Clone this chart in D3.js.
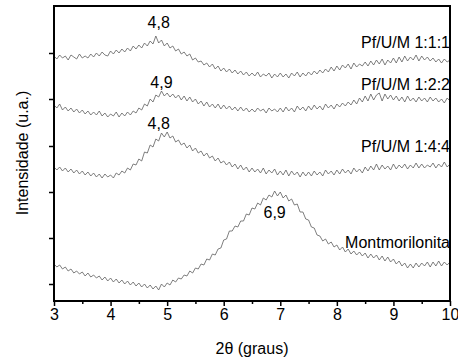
<!DOCTYPE html>
<html><head><meta charset="utf-8">
<script src="https://cdn.jsdelivr.net/npm/d3@7"></script>
<style>body{margin:0;background:#fff}svg{display:block}text{font-family:"Liberation Sans",Arial,sans-serif;fill:#000}</style>
</head><body><div id="chart"></div>
<script>
// 2θ sampling grid: 3.00 to 10.00 in steps of 0.05 (141 points)
const twoThetaStart = 3, twoThetaStep = 0.05;
const xTicks = [3,4,5,6,7,8,9,10];
const xMinorTicks = [3.5,4.5,5.5,6.5,7.5,8.5,9.5];
const yTicks = [17,63,109,155,202,248];
const seriesNames = ["Pf/U/M 1:1:1","Pf/U/M 1:2:2","Pf/U/M 1:4:4","Montmorilonita"];
const peakLabels = ["4,8","4,9","4,8","6,9"];
const peakX = [4.85,4.9,4.85,6.9];
const peakY = [273,213,172,83];
const nameY = [253,211,149,53];

const s111 = [245,242,246,243,245,241,246,244,242,247,243,245,243,247,244,248,245,249,246,245,
250,247,251,248,252,249,253,250,255,252,256,253,258,255,260,257,265,258,261,255,
258,253,255,250,252,247,249,245,247,241,243,239,240,236,238,234,237,232,235,230,
233,229,232,228,231,227,230,226,229,225,228,225,229,224,227,225,228,223,227,224,
228,224,227,223,228,225,229,224,228,225,229,226,230,227,231,228,232,229,234,230,
235,231,236,233,237,232,238,234,237,235,239,235,240,236,241,237,242,236,241,238,
243,238,244,239,245,240,244,241,246,240,245,241,244,240,243,239,242,238,242,239,241];
const s122 = [196,193,197,191,194,190,193,189,192,188,191,187,190,186,189,186,190,185,188,184,
187,185,189,184,188,185,189,186,190,188,193,191,197,195,202,199,206,204,210,205,
208,204,207,203,206,201,205,200,204,199,202,197,200,195,199,194,197,193,197,192,
196,192,195,191,194,190,194,190,193,189,192,189,193,190,192,188,193,190,192,189,
193,189,194,190,193,189,195,191,194,190,195,191,196,192,195,191,197,193,196,192,
197,194,198,195,199,196,201,197,203,199,205,200,207,201,206,208,200,207,202,206,
201,205,200,204,199,205,200,203,199,204,200,203,199,204,200,203,199,202,198,203,200];
const s144 = [134,131,134,130,133,129,132,128,131,127,130,126,129,125,128,124,127,123,127,124,
126,123,128,126,130,128,133,131,137,136,142,140,149,148,156,154,162,160,168,164,
169,163,165,159,161,156,158,153,156,150,153,148,150,145,148,143,145,140,143,138,
140,136,139,134,137,132,136,131,134,129,133,129,132,128,133,127,131,128,132,126,
130,126,131,125,130,126,129,124,129,125,129,125,130,126,129,125,131,127,130,126,
131,127,132,128,131,127,133,129,132,128,134,130,135,131,137,131,136,132,135,131,
137,132,136,133,137,132,136,133,138,133,137,133,136,134,138,133,137,134,139,134,137];
const sMont = [37,34,36,32,34,30,32,28,30,27,29,25,28,24,26,23,25,21,24,20,
23,19,22,18,21,17,20,16,19,15,18,14,17,13,16,12,15,11,17,14,
18,16,21,19,23,22,26,25,30,28,33,32,37,36,42,41,47,46,52,53,
61,62,70,70,75,74,80,80,87,86,93,92,98,96,103,101,106,104,110,105,
109,103,106,100,102,96,97,89,89,82,81,74,73,66,65,60,62,57,59,54,
56,51,54,49,52,47,50,46,49,45,48,43,47,43,46,41,45,40,44,39,
42,37,40,35,38,33,37,33,38,34,38,35,39,34,39,35,40,35,39,36,39];
const seriesValues = [s111, s122, s144, sMont];

const W = 458, H = 359;
const svg = d3.select("#chart").append("svg").attr("width", W).attr("height", H);
const x = d3.scaleLinear().domain([3,10]).range([54,450]);
const y = d3.scaleLinear().domain([0,295]).range([301,6]);

svg.append("defs").append("clipPath").attr("id","clip")
  .append("rect").attr("x",54).attr("y",6).attr("width",396).attr("height",295);

const line = d3.line()
  .x((d,i) => x(twoThetaStart + i*twoThetaStep))
  .y(d => y(d));

const g = svg.append("g").attr("clip-path","url(#clip)");
seriesValues.forEach(vals => {
  g.append("path").attr("d", line(vals))
    .attr("fill","none").attr("stroke","#5e5e5e").attr("stroke-width",0.8)
    .attr("stroke-linejoin","round");
});

const FS = "16px";
// axes
const xAxis = d3.axisBottom(x).tickValues(xTicks).tickSize(5).tickPadding(3).tickFormat(d3.format("d"));
const gx = svg.append("g").attr("transform","translate(0,301)").call(xAxis);
gx.select(".domain").remove();
gx.selectAll("line").attr("stroke","#000").attr("stroke-width",1.5);
gx.selectAll("text").style("font-size",FS).style("font-family","Liberation Sans, Arial, sans-serif");
const gxm = svg.append("g").attr("transform","translate(0,301)")
  .call(d3.axisBottom(x).tickValues(xMinorTicks).tickSize(3).tickFormat(""));
gxm.select(".domain").remove();
gxm.selectAll("line").attr("stroke","#000").attr("stroke-width",1.5);

const gy = svg.append("g").attr("transform","translate(54,0)")
  .call(d3.axisLeft(y).tickValues(yTicks).tickSize(5).tickFormat(""));
gy.select(".domain").remove();
gy.selectAll("line").attr("stroke","#000").attr("stroke-width",1.5);

svg.append("rect").attr("x",54).attr("y",6).attr("width",396).attr("height",295)
  .attr("fill","none").attr("stroke","#000").attr("stroke-width",2);

// labels
seriesNames.forEach((n,i) => {
  svg.append("text").attr("x",450).attr("y",y(nameY[i])).attr("text-anchor","end")
    .style("font-size",FS).text(n);
});
peakLabels.forEach((t,i) => {
  svg.append("text").attr("x",x(peakX[i])).attr("y",y(peakY[i])).attr("text-anchor","middle")
    .style("font-size",FS).text(t);
});

svg.append("text").attr("x",252).attr("y",354).attr("text-anchor","middle")
  .style("font-size",FS).text("2θ (graus)");
svg.append("text").attr("transform","translate(28,153) rotate(-90)").attr("text-anchor","middle")
  .style("font-size",FS).text("Intensidade (u.a.)");
</script></body></html>
